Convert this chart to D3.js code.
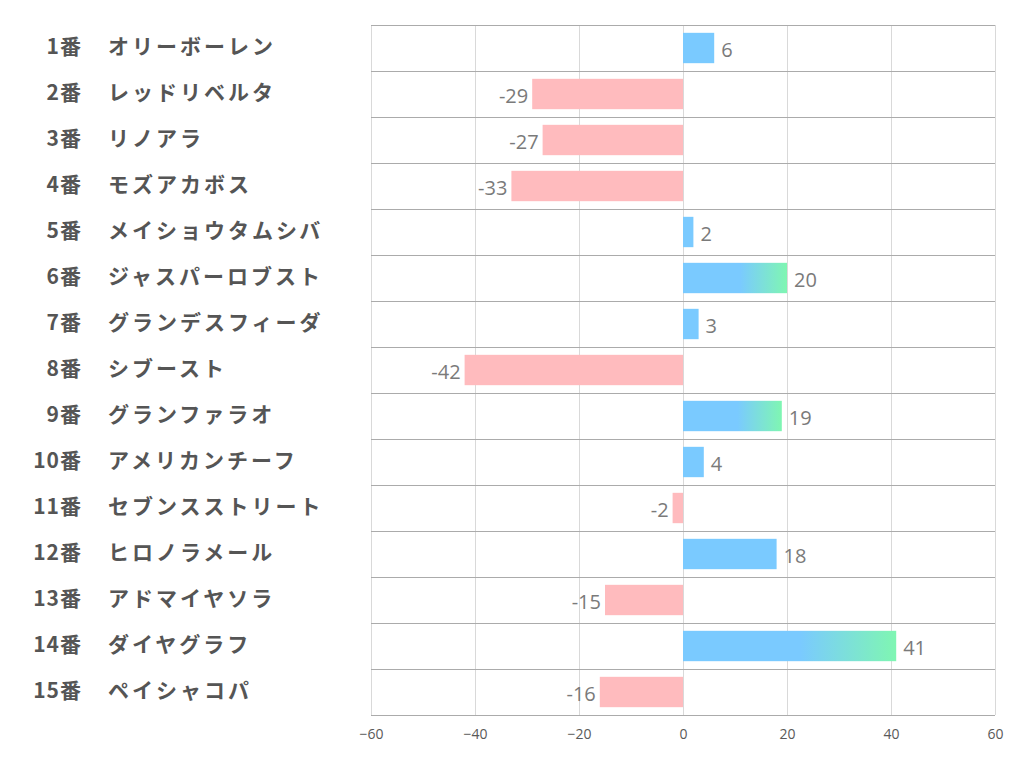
<!DOCTYPE html>
<html><head><meta charset="utf-8">
<script src="https://cdn.jsdelivr.net/npm/d3@7"></script>
<style>body{margin:0;background:#fff}</style>
</head><body>
<svg id="c" width="1022" height="782"></svg>
<script>
const numbers = ["1番","2番","3番","4番","5番","6番","7番","8番","9番","10番","11番","12番","13番","14番","15番"];
const names = ["オリーボーレン","レッドリベルタ","リノアラ","モズアカボス","メイショウタムシバ","ジャスパーロブスト","グランデスフィーダ","シブースト","グランファラオ","アメリカンチーフ","セブンスストリート","ヒロノラメール","アドマイヤソラ","ダイヤグラフ","ペイシャコパ"];
const values = [6,-29,-27,-33,2,20,3,-42,19,4,-2,18,-15,41,-16];
const highlighted = [false,false,false,false,false,true,false,false,true,false,false,false,false,true,false];
const ticks = [-60,-40,-20,0,20,40,60];

const svg = d3.select("#c");
const L = 371, R = 995, T = 25, B = 715;
const x = d3.scaleLinear().domain([-60,60]).range([L,R]);
const y = d3.scaleBand().domain(d3.range(values.length)).range([T,B]).paddingInner(0.34).paddingOuter(0.17);
const rowY = d3.scaleBand().domain(d3.range(values.length)).range([T,B]);

const defs = svg.append("defs");
const grad = defs.append("linearGradient").attr("id","g").attr("x1","0").attr("x2","1").attr("y1","0").attr("y2","0");
grad.append("stop").attr("offset","0.55").attr("stop-color","#7ACAFF");
grad.append("stop").attr("offset","1").attr("stop-color","#7FF6B2");

// vertical grid
svg.append("g").selectAll("line").data(ticks).join("line")
  .attr("x1",d=>x(d)+0.5).attr("x2",d=>x(d)+0.5).attr("y1",T).attr("y2",B)
  .attr("stroke","#d9d9d9").attr("stroke-width",1);
// horizontal row lines
svg.append("g").selectAll("line").data(d3.range(values.length+1)).join("line")
  .attr("x1",L).attr("x2",R)
  .attr("y1",i=>(i<values.length?rowY(i):B)+0.5).attr("y2",i=>(i<values.length?rowY(i):B)+0.5)
  .attr("stroke","#ababab").attr("stroke-width",1);

// bars
svg.append("g").selectAll("rect").data(values).join("rect")
  .attr("x",d=>x(Math.min(0,d))).attr("width",d=>Math.abs(x(d)-x(0)))
  .attr("y",(d,i)=>y(i)).attr("height",y.bandwidth())
  .attr("fill",(d,i)=>d<0?"#FFBBBE":(highlighted[i]?"url(#g)":"#7ACAFF"));

// value labels
svg.append("g").selectAll("text").data(values).join("text")
  .attr("x",d=>d<0?x(d)-4:x(d)+7)
  .attr("y",(d,i)=>y(i)+y.bandwidth()/2+4)
  .attr("dominant-baseline","middle")
  .attr("text-anchor",d=>d<0?"end":"start")
  .attr("font-family","'Open Sans',sans-serif")
  .attr("font-size",20).attr("fill","#7a7a7a")
  .text(d=>d);

// left labels
const lab = svg.append("g").attr("font-family","'Noto Sans CJK JP',sans-serif").attr("font-weight","bold").attr("font-size",21).attr("fill","#555");
lab.selectAll("text.n").data(numbers).join("text").attr("class","n")
  .attr("x",82).attr("y",(d,i)=>rowY(i)+rowY.bandwidth()/2).attr("dominant-baseline","middle").attr("text-anchor","end").attr("letter-spacing","1").text(d=>d);
lab.selectAll("text.m").data(names).join("text").attr("class","m")
  .attr("x",108).attr("y",(d,i)=>rowY(i)+rowY.bandwidth()/2).attr("dominant-baseline","middle").attr("letter-spacing","3").text(d=>d);

// x axis
const ax = svg.append("g").attr("transform",`translate(0,${B})`).call(d3.axisBottom(x).tickValues(ticks).tickSize(0).tickPadding(14));
ax.select(".domain").remove();
ax.selectAll("text").attr("font-family","'Open Sans',sans-serif").attr("font-size",14).attr("fill","#595959");
</script>
</body></html>
